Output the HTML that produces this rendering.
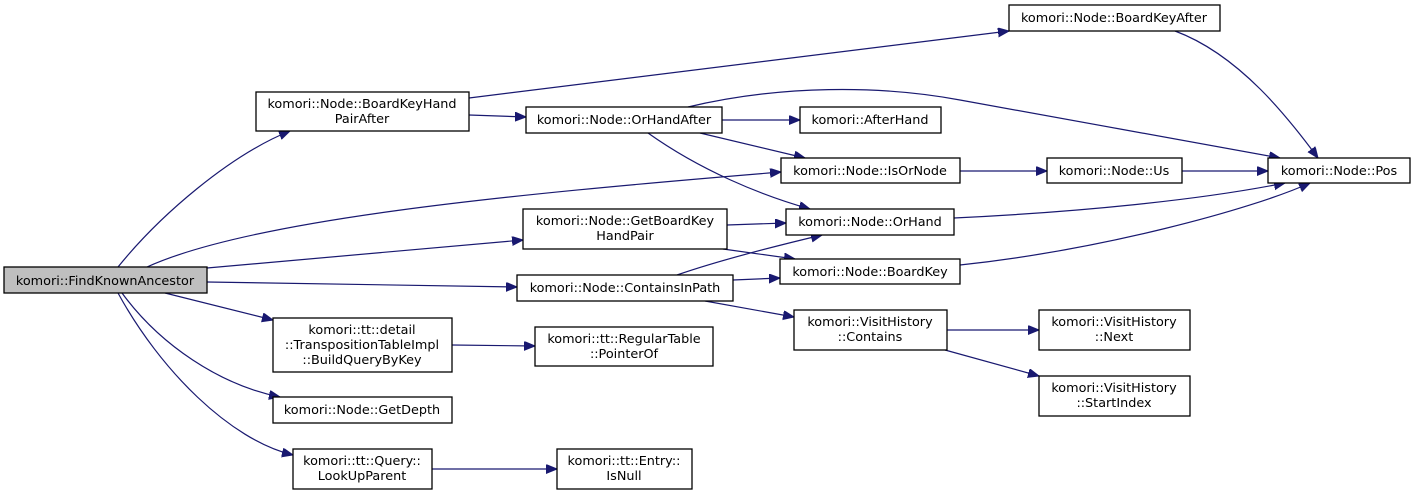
<!DOCTYPE html>
<html><head><meta charset="utf-8"><style>
html,body{margin:0;padding:0;background:#fff;}
svg{display:block;}
text{font-family:"DejaVu Sans","Liberation Sans",sans-serif;font-size:12.8px;fill:#000;text-anchor:middle;}
rect{fill:#fff;stroke:#000;stroke-width:1.3;}
path.e{fill:none;stroke:#191970;stroke-width:1.2;}
</style></head><body>
<svg width="1411" height="495" viewBox="0 0 1411 495">
<defs>
<marker id="a" markerUnits="userSpaceOnUse" markerWidth="12" markerHeight="10" refX="11" refY="4.5" orient="auto">
<path d="M0,0 L11,4.5 L0,9 Z" fill="#191970" stroke="#191970"/>
</marker>
</defs>
<g>
<path class="e" marker-end="url(#a)" d="M118,267 C160,215 230,155 290,131"/>
<path class="e" marker-end="url(#a)" d="M147,267 C250,220 500,195 781,172"/>
<path class="e" marker-end="url(#a)" d="M207,268 L523,240"/>
<path class="e" marker-end="url(#a)" d="M207,282 L517,287"/>
<path class="e" marker-end="url(#a)" d="M165,293 L273,320"/>
<path class="e" marker-end="url(#a)" d="M122,293 C160,345 220,385 280,397"/>
<path class="e" marker-end="url(#a)" d="M118,293 C160,370 230,440 293,455"/>
<path class="e" marker-end="url(#a)" d="M469,98 L1009,31"/>
<path class="e" marker-end="url(#a)" d="M469,115 L526,117"/>
<path class="e" marker-end="url(#a)" d="M722,120 L800,120"/>
<path class="e" marker-end="url(#a)" d="M700,133 L805,158"/>
<path class="e" marker-end="url(#a)" d="M648,133 C700,170 760,195 810,209"/>
<path class="e" marker-end="url(#a)" d="M688,107 C780,85 880,85 960,100 C1060,118 1180,140 1280,158"/>
<path class="e" marker-end="url(#a)" d="M1175,31 C1240,55 1290,120 1318,158"/>
<path class="e" marker-end="url(#a)" d="M960,171 L1047,171"/>
<path class="e" marker-end="url(#a)" d="M1182,171 L1268,171"/>
<path class="e" marker-end="url(#a)" d="M954,218 C1080,212 1200,200 1285,183"/>
<path class="e" marker-end="url(#a)" d="M960,265 C1100,250 1250,210 1310,183"/>
<path class="e" marker-end="url(#a)" d="M727,225 L786,223"/>
<path class="e" marker-end="url(#a)" d="M723,249 L795,259"/>
<path class="e" marker-end="url(#a)" d="M677,275 C720,260 780,245 822,235"/>
<path class="e" marker-end="url(#a)" d="M733,280 L780,278"/>
<path class="e" marker-end="url(#a)" d="M705,301 L794,317"/>
<path class="e" marker-end="url(#a)" d="M947,330 L1039,330"/>
<path class="e" marker-end="url(#a)" d="M945,350 L1039,376"/>
<path class="e" marker-end="url(#a)" d="M452,345 L535,346"/>
<path class="e" marker-end="url(#a)" d="M432,469 L557,469"/>
</g>
<g>
<rect x="4" y="267" width="203" height="26" style="fill:#bfbfbf"/>
<text x="105" y="285">komori::FindKnownAncestor</text>

<rect x="256" y="92" width="213" height="39"/>
<text x="362" y="108">komori::Node::BoardKeyHand</text>
<text x="362" y="123">PairAfter</text>

<rect x="526" y="107" width="196" height="26"/>
<text x="624" y="124">komori::Node::OrHandAfter</text>

<rect x="523" y="209" width="204" height="40"/>
<text x="625" y="225">komori::Node::GetBoardKey</text>
<text x="625" y="240">HandPair</text>

<rect x="1009" y="5" width="211" height="26"/>
<text x="1114" y="22">komori::Node::BoardKeyAfter</text>

<rect x="800" y="107" width="141" height="26"/>
<text x="870" y="124">komori::AfterHand</text>

<rect x="781" y="158" width="179" height="25"/>
<text x="870" y="175">komori::Node::IsOrNode</text>

<rect x="1047" y="158" width="135" height="25"/>
<text x="1114" y="175">komori::Node::Us</text>

<rect x="1268" y="158" width="142" height="25"/>
<text x="1339" y="175">komori::Node::Pos</text>

<rect x="786" y="209" width="168" height="26"/>
<text x="870" y="226">komori::Node::OrHand</text>

<rect x="780" y="259" width="180" height="25"/>
<text x="870" y="276">komori::Node::BoardKey</text>

<rect x="517" y="275" width="216" height="26"/>
<text x="625" y="292">komori::Node::ContainsInPath</text>

<rect x="794" y="310" width="153" height="40"/>
<text x="870" y="326">komori::VisitHistory</text>
<text x="870" y="341">::Contains</text>

<rect x="1039" y="310" width="151" height="40"/>
<text x="1114" y="326">komori::VisitHistory</text>
<text x="1114" y="341">::Next</text>

<rect x="1039" y="376" width="151" height="40"/>
<text x="1114" y="392">komori::VisitHistory</text>
<text x="1114" y="407">::StartIndex</text>

<rect x="273" y="318" width="179" height="54"/>
<text x="362" y="334">komori::tt::detail</text>
<text x="362" y="349">::TranspositionTableImpl</text>
<text x="362" y="364">::BuildQueryByKey</text>

<rect x="535" y="327" width="178" height="39"/>
<text x="624" y="343">komori::tt::RegularTable</text>
<text x="624" y="358">::PointerOf</text>

<rect x="273" y="397" width="179" height="26"/>
<text x="362" y="414">komori::Node::GetDepth</text>

<rect x="293" y="449" width="139" height="40"/>
<text x="362" y="465">komori::tt::Query::</text>
<text x="362" y="480">LookUpParent</text>

<rect x="557" y="449" width="135" height="40"/>
<text x="624" y="465">komori::tt::Entry::</text>
<text x="624" y="480">IsNull</text>
</g>
</svg>
</body></html>
